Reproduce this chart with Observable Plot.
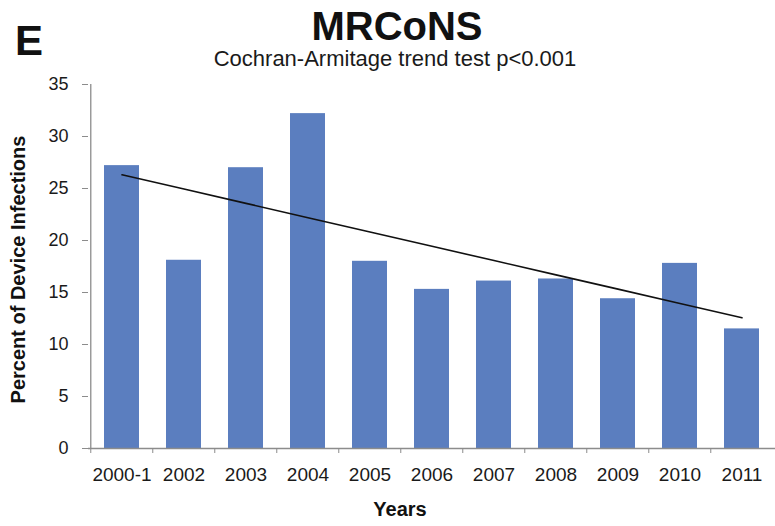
<!DOCTYPE html>
<html>
<head>
<meta charset="utf-8">
<script src="https://cdn.jsdelivr.net/npm/d3@7"></script>
<script src="https://cdn.jsdelivr.net/npm/@observablehq/plot@0.6"></script>
<style>
  html, body { margin: 0; padding: 0; background: #fff; }
  #wrap { position: relative; width: 775px; height: 526px; font-family: "Liberation Sans", Arial, Helvetica, sans-serif; color: #111; overflow: hidden; }
  #header { position: relative; width: 775px; height: 75px; }
  #panel { position: absolute; left: 15px; top: 20px; font-size: 42px; line-height: 42px; font-weight: bold; }
  #title { position: absolute; left: 397px; top: 6px; transform: translateX(-50%); font-size: 40px; line-height: 40px; font-weight: bold; white-space: nowrap; }
  #subtitle { position: absolute; left: 395px; top: 48px; transform: translateX(-50%); font-size: 22px; line-height: 22px; white-space: nowrap; color: #1a1a1a; }
  svg { display: block; }
</style>
</head>
<body>
<div id="wrap">
  <div id="header">
    <div id="panel"></div>
    <div id="title"></div>
    <div id="subtitle"></div>
  </div>
  <div id="chart"></div>
</div>
<script>
const panelLabel = "E";
const titleText = "MRCoNS";
const subtitleText = "Cochran-Armitage trend test p<0.001";
const xLabel = "Years";
const yLabel = "Percent of Device Infections";

const categories = ["2000-1", "2002", "2003", "2004", "2005", "2006", "2007", "2008", "2009", "2010", "2011"];
const values = [27.2, 18.1, 27.0, 32.2, 18.0, 15.3, 16.1, 16.3, 14.4, 17.8, 11.5];
const yTicks = [0, 5, 10, 15, 20, 25, 30, 35];

document.getElementById("panel").textContent = panelLabel;
document.getElementById("title").textContent = titleText;
document.getElementById("subtitle").textContent = subtitleText;

const data = categories.map((c, i) => ({year: c, pct: values[i], idx: i}));

// ordinary least-squares linear trend over the category index
const mx = d3.mean(data, d => d.idx);
const my = d3.mean(data, d => d.pct);
const sxy = d3.sum(data, d => (d.idx - mx) * (d.pct - my));
const sxx = d3.sum(data, d => (d.idx - mx) ** 2);
const slope = sxy / sxx;
const intercept = my - slope * mx;
const trend = data.map(d => ({year: d.year, fit: intercept + slope * d.idx}));

const W = 775, H = 451, mL = 88, mR = 0, mT = 9, mB = 78;
const step = (W - mL - mR) / categories.length; // paddingInner == 2*paddingOuter => step = range / n
const barColor = "#5b7ebf";
const axisColor = "#8c8c8c";

const chart = Plot.plot({
  width: W,
  height: H,
  marginLeft: mL,
  marginRight: mR,
  marginTop: mT,
  marginBottom: mB,
  style: {fontFamily: '"Liberation Sans", Arial, Helvetica, sans-serif', color: "#1a1a1a", background: "white"},
  x: {domain: categories, paddingInner: 0.44, paddingOuter: 0.22, axis: null, label: null},
  y: {domain: [0, 35], axis: null, label: null},
  marks: [
    Plot.barY(data, {x: "year", y: "pct", fill: barColor}),
    Plot.ruleY([0], {stroke: axisColor, strokeWidth: 1.3}),
    Plot.ruleX([categories[0]], {x: d => d, y1: 0, y2: 35, dx: -step / 2, stroke: axisColor, strokeWidth: 1.3}),
    Plot.axisX({ticks: categories, tickSize: 5, tickFormat: () => "", dx: -step / 2, stroke: axisColor, label: null}),
    Plot.axisX({ticks: categories, tickSize: 0, tickPadding: 19, fontSize: 19, label: null}),
    Plot.axisY({ticks: yTicks, tickSize: 6, tickPadding: 14, fontSize: 18, stroke: axisColor, label: null}),
    Plot.line(trend, {x: "year", y: "fit", stroke: "#111", strokeWidth: 1.6}),
    Plot.text([yLabel], {frameAnchor: "left", textAnchor: "middle", rotate: -90, dx: -69.5, dy: 3, fontSize: 20, fontWeight: "bold", fill: "#111"}),
    Plot.text([xLabel], {frameAnchor: "bottom", textAnchor: "middle", dx: -32, dy: 67, fontSize: 20, fontWeight: "bold", fill: "#111"})
  ]
});
document.getElementById("chart").appendChild(chart);
</script>
</body>
</html>
